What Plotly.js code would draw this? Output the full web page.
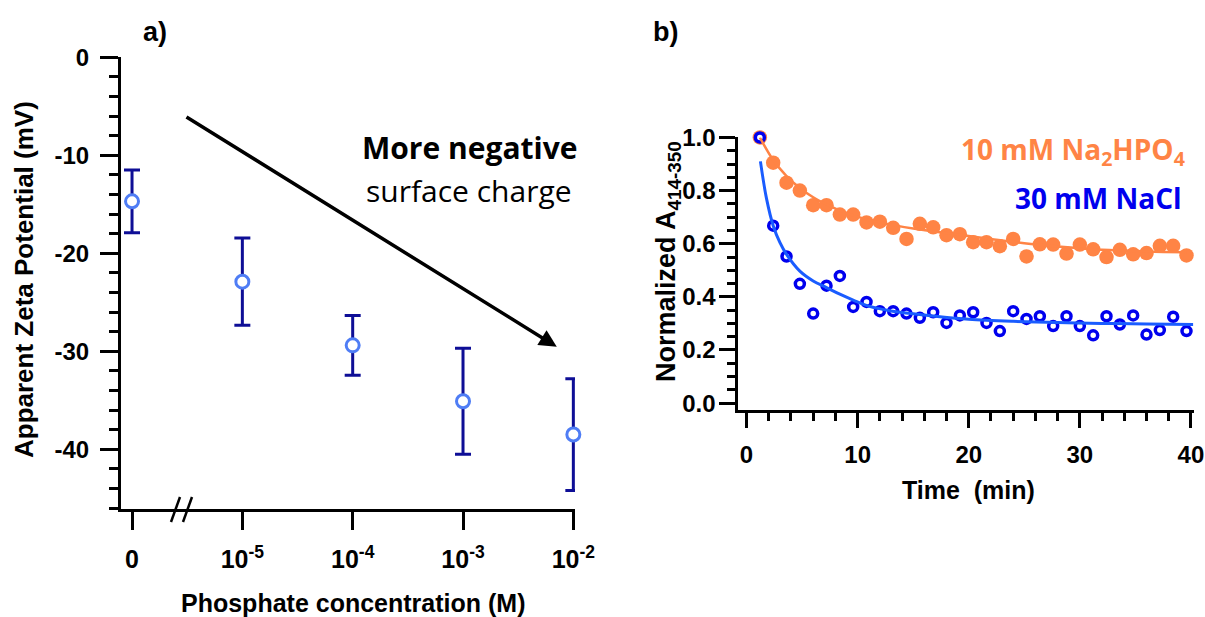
<!DOCTYPE html>
<html><head><meta charset="utf-8">
<script src="https://cdn.plot.ly/plotly-3.0.1.min.js"></script>
<style>html,body{margin:0;padding:0;background:#fff}#chart{width:1205px;height:617px}</style>
</head><body><div id="chart"></div>
<script>
// ---------- Panel a data ----------
const concPos = [0, 1, 2, 3, 4];
const concLabels = ['0', '10<sup>-5</sup>', '10<sup>-4</sup>', '10<sup>-3</sup>', '10<sup>-2</sup>'];
const zetaTickVals = [0, -10, -20, -30, -40];
const zetaTickText = ['0', '-10', '-20', '-30', '-40'];
const zeta = [-14.7, -22.9, -29.4, -35.1, -38.5];
const zetaErr = [3.2, 4.45, 3.05, 5.4, 5.7];

// ---------- Panel b data ----------
const time = [1.2, 2.4, 3.6, 4.8, 6.0, 7.2, 8.4, 9.6, 10.8, 12.0, 13.2, 14.4, 15.6, 16.8, 18.0, 19.2, 20.4,
  21.6, 22.8, 24.0, 25.2, 26.4, 27.6, 28.8, 30.0, 31.2, 32.4, 33.6, 34.8, 36.0, 37.2, 38.4, 39.6];
const phosphate = [1.0, 0.905, 0.83, 0.80, 0.745, 0.745, 0.71, 0.71, 0.68, 0.683, 0.66, 0.618, 0.675, 0.662,
  0.632, 0.636, 0.606, 0.606, 0.591, 0.618, 0.552, 0.598, 0.597, 0.563, 0.597, 0.579, 0.55, 0.577, 0.56,
  0.565, 0.592, 0.592, 0.556];
const nacl = [1.0, 0.668, 0.552, 0.449, 0.337, 0.442, 0.479, 0.362, 0.381, 0.346, 0.346, 0.337, 0.321, 0.342,
  0.302, 0.330, 0.342, 0.302, 0.271, 0.346, 0.317, 0.327, 0.29, 0.327, 0.29, 0.255, 0.327, 0.296, 0.330,
  0.258, 0.275, 0.325, 0.271];
const phosFitT = [1.2, 2.4, 3.6, 4.8, 6.0, 7.2, 8.4, 9.6, 11, 13, 15, 17, 19, 22, 25, 28, 32, 36, 39.6];
const phosFitY = [1.0, 0.915, 0.855, 0.81, 0.775, 0.748, 0.725, 0.707, 0.69, 0.672, 0.657, 0.645, 0.635,
  0.618, 0.602, 0.59, 0.577, 0.571, 0.568];
const naclFitT = [1.25, 1.8, 2.4, 3.0, 3.6, 4.8, 6.0, 7.2, 8.4, 9.6, 11, 13, 15, 17, 20, 24, 28, 32, 36, 40.2];
const naclFitY = [0.91, 0.77, 0.668, 0.605, 0.56, 0.497, 0.46, 0.435, 0.41, 0.388, 0.365, 0.347, 0.336,
  0.327, 0.316, 0.308, 0.303, 0.3, 0.298, 0.296];

const ARIAL = 'Arial, "Liberation Sans", sans-serif';
const CAL = '"Open Sans", sans-serif';
const ORANGE = '#FF8445';
const BLUE = '#0000EE';

const traces = [
  {x: concPos, y: zeta, xaxis: 'x', yaxis: 'y', mode: 'markers', type: 'scatter',
   error_y: {type: 'data', array: zetaErr, visible: true, color: '#0E0E96', thickness: 3, width: 8},
   marker: {symbol: 'circle', size: 13, color: '#ffffff', line: {color: '#4F7DF5', width: 3}},
   cliponaxis: false, showlegend: false},
  {x: time, y: phosphate, xaxis: 'x2', yaxis: 'y2', mode: 'markers', type: 'scatter',
   marker: {symbol: 'circle', size: 14.5, color: ORANGE}, cliponaxis: false, showlegend: false},
  {x: time, y: nacl, xaxis: 'x2', yaxis: 'y2', mode: 'markers', type: 'scatter',
   marker: {symbol: 'circle', size: 9, color: '#ffffff', line: {color: BLUE, width: 3.5}},
   cliponaxis: false, showlegend: false},
  {x: phosFitT, y: phosFitY, xaxis: 'x2', yaxis: 'y2', mode: 'lines', type: 'scatter',
   line: {color: ORANGE, width: 2.5, shape: 'spline'}, showlegend: false},
  {x: naclFitT, y: naclFitY, xaxis: 'x2', yaxis: 'y2', mode: 'lines', type: 'scatter',
   line: {color: '#1A5CFF', width: 3, shape: 'spline'}, showlegend: false}
];

const tickFont = (s) => ({family: ARIAL, size: s, color: '#000', weight: 'bold'});
const ann = (text, px, py, size, extra) => Object.assign({
  text: text, xref: 'paper', yref: 'paper', x: px / 1205, y: 1 - py / 617,
  xanchor: 'center', yanchor: 'middle', showarrow: false,
  font: {family: ARIAL, size: size, color: '#000', weight: 'bold'}}, extra || {});

const layout = {
  width: 1205, height: 617,
  margin: {l: 0, r: 0, t: 0, b: 0, autoexpand: false},
  paper_bgcolor: '#fff', plot_bgcolor: '#fff',
  showlegend: false,
  xaxis: {domain: [0.10041, 0.47718], range: [-0.1, 4.015], tickmode: 'array', tickvals: concPos, ticktext: concLabels,
    showline: true, linecolor: '#000', linewidth: 3, ticks: 'outside', ticklen: 18, tickwidth: 3, tickcolor: '#000',
    showgrid: false, zeroline: false, tickfont: tickFont(25), ticklabelstandoff: 8, anchor: 'y'},
  yaxis: {domain: [0.17504, 0.90713], range: [-46.1, 0], tickmode: 'array', tickvals: zetaTickVals, ticktext: zetaTickText,
    showline: true, linecolor: '#000', linewidth: 3, ticks: 'outside', ticklen: 18, tickwidth: 3, tickcolor: '#000',
    minor: {tick0: 0, dtick: 2, ticklen: 9, tickwidth: 3, tickcolor: '#000', ticks: 'outside'},
    showgrid: false, zeroline: false, tickfont: tickFont(24), ticklabelstandoff: 6, anchor: 'x'},
  xaxis2: {domain: [0.61270, 0.99046], range: [-0.74, 40.23], dtick: 10, tick0: 0,
    showline: true, linecolor: '#000', linewidth: 3, ticks: 'outside', ticklen: 15, tickwidth: 3, tickcolor: '#000',
    minor: {dtick: 2, ticklen: 8, tickwidth: 3, tickcolor: '#000', ticks: 'outside'},
    showgrid: false, zeroline: false, tickfont: tickFont(24), ticklabelstandoff: 6, anchor: 'y2'},
  yaxis2: {domain: [0.33549, 0.77715], range: [-0.026, 1.0], dtick: 0.2, tick0: 0, tickformat: '.1f',
    showline: true, linecolor: '#000', linewidth: 3, ticks: 'outside', ticklen: 16, tickwidth: 3, tickcolor: '#000',
    minor: {dtick: 0.05, ticklen: 8, tickwidth: 3, tickcolor: '#000', ticks: 'outside'},
    showgrid: false, zeroline: false, tickfont: tickFont(24), ticklabelstandoff: -1, anchor: 'x2'},
  shapes: [
    {type: 'line', xref: 'paper', yref: 'paper', x0: 171/1205, y0: 1 - 522/617, x1: 180/1205, y1: 1 - 497/617,
     line: {color: '#000', width: 2.5}},
    {type: 'line', xref: 'paper', yref: 'paper', x0: 183/1205, y0: 1 - 522/617, x1: 192/1205, y1: 1 - 497/617,
     line: {color: '#000', width: 2.5}}
  ],
  annotations: [
    ann('a)', 155, 32, 27),
    ann('b)', 665, 32, 27),
    ann('Apparent Zeta Potential (mV)', 24, 280, 26, {textangle: -90}),
    ann('Phosphate concentration (M)', 353, 603, 25),
    ann('Normalized A<sub>414-350</sub>', 668, 262, 27, {textangle: -90}),
    ann('Time  (min)', 968, 490, 25),
    ann('More negative', 469, 147, 30, {font: {family: CAL, size: 30, color: '#000', weight: 'bold'}}),
    ann('surface charge', 469, 191, 30, {font: {family: CAL, size: 30, color: '#000'}}),
    ann('10 mM Na<sub>2</sub>HPO<sub>4</sub>', 1187, 151, 28,
        {xanchor: 'right', font: {family: CAL, size: 28, color: ORANGE, weight: 'bold'}}),
    ann('30 mM NaCl', 1184, 198, 28,
        {xanchor: 'right', font: {family: CAL, size: 28, color: BLUE, weight: 'bold'}}),
    {text: '', xref: 'x', yref: 'y', axref: 'x', ayref: 'y', x: 3.85, y: -29.55, ax: 0.48, ay: -6.0,
     showarrow: true, arrowhead: 2, arrowsize: 1, arrowwidth: 3.5, arrowcolor: '#000', standoff: 0}
  ]
};

Plotly.newPlot('chart', traces, layout, {displayModeBar: false, staticPlot: true});
</script>
</body></html>
